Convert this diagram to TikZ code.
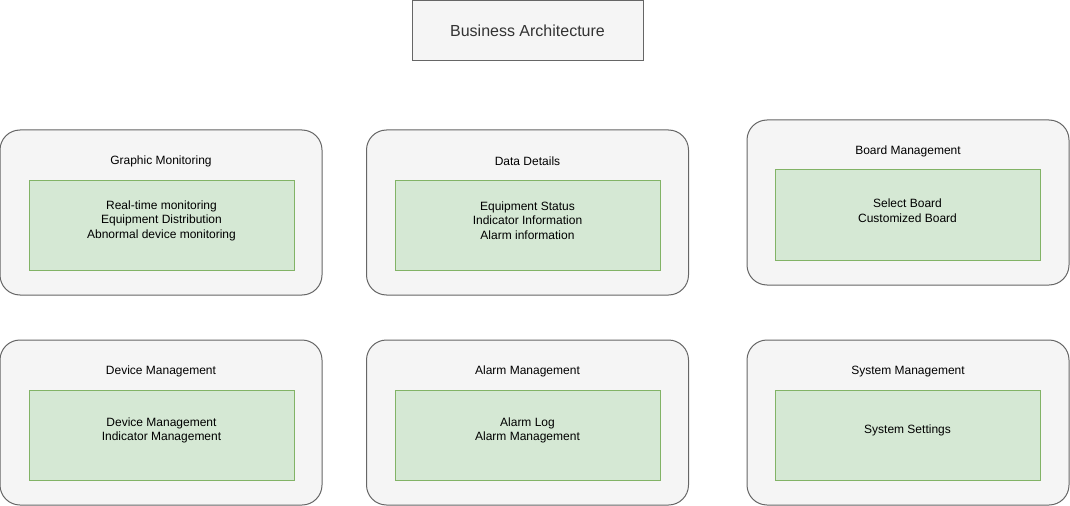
\documentclass[tikz,border=0pt]{standalone}
\usepackage{fontspec}
\setmainfont{Liberation Sans}
\usetikzlibrary{positioning}
\definecolor{archInk}{HTML}{333333}
\definecolor{archFill}{HTML}{F5F5F5}
\definecolor{archLine}{HTML}{666666}
\definecolor{listFill}{HTML}{D5E8D4}
\definecolor{listLine}{HTML}{82B366}
\tikzset{
  every picture/.style={font=\fontsize{9}{10.9}\selectfont, text=black},
  arch title/.style={draw=archLine, fill=archFill, line width=0.75pt,
    minimum width=173.25pt, minimum height=45pt, text=archInk,
    font=\fontsize{12}{14}\selectfont},
  module box/.style={draw=archLine, fill=archFill, line width=0.75pt,
    rounded corners=15pt, minimum width=241.5pt, minimum height=123.75pt},
  list box/.style={draw=listLine, fill=listFill, line width=0.75pt,
    minimum width=198.75pt, minimum height=67.5pt},
  list items/.style={align=center, inner sep=0pt},
  module head/.style={inner sep=0pt}
}
\begin{document}
\begin{tikzpicture}[x=0.75pt,y=-0.75pt]
  \useasboundingbox (0,0) rectangle (1070,506);
  \node[arch title] (title) at (527.5,30.5) {Business Architecture};

  % first row
  \node[module box] (gmBox) at (161,212.5) {};
  \node[module head] (gmHead) at ([yshift=-24pt]gmBox.north) {Graphic Monitoring};
  \node[list box] (gmList) at (161.5,225) {};
  \node[list items] (gmItems) at ([yshift=3.3pt]gmList.center) {Real-time monitoring\\Equipment Distribution\\Abnormal device monitoring};

  \node[module box] (ddBox) at (527.5,212.5) {};
  \node[module head] (ddHead) at ([yshift=-24pt]ddBox.north) {Data Details};
  \node[list box] (ddList) at (527.5,225) {};
  \node[list items] (ddItems) at ([yshift=3.3pt]ddList.center) {Equipment Status\\Indicator Information\\Alarm information};

  \node[module box] (bmBox) at (908,202.5) {};
  \node[module head] (bmHead) at ([yshift=-24pt]bmBox.north) {Board Management};
  \node[list box] (bmList) at (907.5,215) {};
  \node[list items] (bmItems) at ([yshift=3.3pt]bmList.center) {Select Board\\Customized Board};

  % second row
  \node[module box] (dmBox) at (161,422.5) {};
  \node[module head] (dmHead) at ([yshift=-24pt]dmBox.north) {Device Management};
  \node[list box] (dmList) at (161.5,435) {};
  \node[list items] (dmItems) at ([yshift=3.3pt]dmList.center) {Device Management\\Indicator Management};

  \node[module box] (amBox) at (527.5,422.5) {};
  \node[module head] (amHead) at ([yshift=-24pt]amBox.north) {Alarm Management};
  \node[list box] (amList) at (527.5,435) {};
  \node[list items] (amItems) at ([yshift=3.3pt]amList.center) {Alarm Log\\Alarm Management};

  \node[module box] (smBox) at (908,422.5) {};
  \node[module head] (smHead) at ([yshift=-24pt]smBox.north) {System Management};
  \node[list box] (smList) at (907.5,435) {};
  \node[list items] (smItems) at ([yshift=3.3pt]smList.center) {System Settings};
\end{tikzpicture}
\end{document}
